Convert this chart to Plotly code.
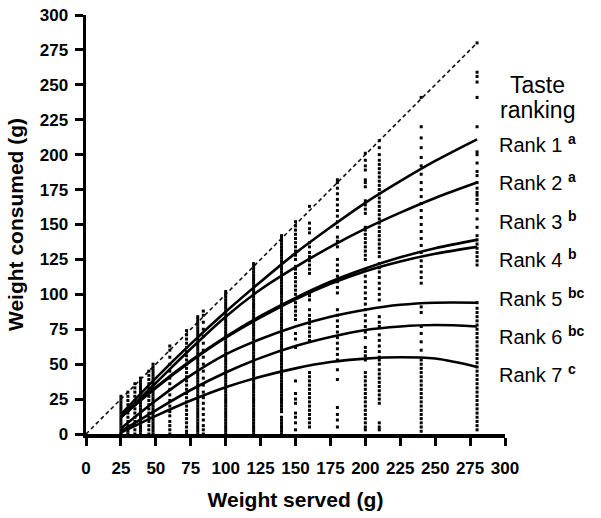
import plotly.graph_objects as go

# ---------------- data ----------------
fit_x = [25, 50, 75, 100, 125, 150, 175, 200, 225, 250, 280]
rank1 = [14, 40, 64.5, 87.5, 109, 129.5, 148, 165.5, 181, 195.5, 211]
rank2 = [12, 36.5, 61, 84, 103.5, 119.5, 134, 147, 158.5, 169, 180]
rank3 = [12, 33.5, 52.5, 69.5, 84.5, 97.5, 109, 118.5, 126.5, 133, 139]
rank4 = [12, 33, 52, 69, 83.5, 96.5, 107.5, 116.5, 123.5, 129, 134]
rank5 = [4, 24, 42, 57, 68, 77, 84, 89, 92.5, 94, 94]
rank6 = [2, 17, 31.5, 44, 54.5, 63, 69.5, 74.5, 77, 78, 77]
rank7 = [1, 13, 24, 33.5, 41, 47, 51.5, 54, 55, 54, 48]
rank_names = ["Rank 1", "Rank 2", "Rank 3", "Rank 4", "Rank 5", "Rank 6", "Rank 7"]
rank_letters = ["a", "a", "b", "b", "bc", "bc", "c"]

identity_x = [0, 280]
identity_y = [0, 280]

served_weights = [25, 30, 35, 39, 45, 48, 60, 72, 80, 84, 100, 120, 140,
                  150, 160, 180, 200, 210, 240, 280]
col_25 = [0, 1, 3, 5, 7, 9, 11, 13, 15, 17, 19, 21, 23, 25, 27]
col_30 = [0, 2, 4, 6, 9, 12, 15, 18, 21, 24, 27, 30]
col_35 = [0, 3, 6, 9, 12, 15, 18, 21, 24, 27, 30, 33, 36]
col_39 = [0, 2, 4, 6, 8, 10, 12, 14, 16, 18, 20, 22, 24, 26, 28, 30, 32, 34, 36, 38, 40]
col_45 = [0, 3, 6, 9, 12, 15, 18, 21, 24, 27, 30, 33, 36, 39, 42, 45]
col_48 = [0, 2, 4, 6, 8, 10, 12, 14, 16, 18, 20, 22, 24, 26, 28, 30, 32, 34, 36,
          38, 40, 42, 44, 46, 48, 50]
col_60 = [0, 3, 6, 9, 13, 16, 20, 24, 28, 32, 36, 40, 45, 50, 55, 60, 63]
col_72 = [0, 2, 5, 8, 11, 14, 17, 20, 23, 26, 29, 32, 35, 38, 41, 44, 47, 50, 53,
          56, 59, 62, 65, 68, 71, 74]
col_80 = [0, 2, 4, 6, 8, 10, 12, 14, 16, 18, 20, 22, 24, 26, 28, 30, 32, 34, 36,
          38, 40, 42, 44, 46, 48, 50, 52, 54, 56, 58, 60, 62, 64, 66, 68, 70, 72,
          74, 76, 78, 80, 82, 84]
col_84 = [0, 3, 6, 10, 14, 18, 22, 26, 30, 35, 40, 45, 50, 55, 60, 65, 70, 75, 80,
          85, 88]
col_100 = [0, 2, 4, 6, 8, 10, 12, 14, 16, 18, 20, 22, 24, 26, 28, 30, 32, 34, 36,
           38, 40, 42, 44, 46, 48, 50, 52, 54, 56, 58, 60, 62, 64, 66, 68, 70, 72,
           74, 76, 78, 80, 82, 84, 86, 88, 90, 92, 94, 96, 98, 100, 102]
col_120 = [0, 2, 4, 6, 8, 10, 12, 14, 16, 18, 20, 22, 24, 26, 28, 30, 32, 34, 36,
           38, 40, 42, 44, 46, 48, 50, 52, 54, 56, 58, 60, 62, 64, 66, 68, 70, 72,
           74, 76, 78, 80, 82, 84, 86, 88, 90, 92, 94, 96, 98, 100, 102, 104, 106,
           108, 110, 112, 114, 116, 118, 120, 122]
col_140 = [0, 2, 4, 6, 8, 10, 12, 16, 18, 20, 22, 24, 26, 28, 30, 32, 34, 36,
           38, 40, 42, 44, 46, 48, 50, 52, 54, 56, 58, 60, 62, 64, 66, 68, 70, 72,
           74, 76, 78, 80, 82, 84, 86, 88, 90, 92, 94, 96, 98, 100, 102, 104, 106,
           108, 110, 112, 114, 116, 118, 120, 122, 124, 126, 128, 130, 132, 134,
           136, 138, 140, 142]
col_150 = [3, 8, 12, 15, 22, 25, 29, 38, 62, 68, 72, 82, 85, 88, 91, 94, 97, 100,
           103, 106, 109, 112, 115, 118, 120, 125, 128, 131, 134, 137, 140, 143,
           146, 149, 152]
col_160 = [5, 8, 11, 14, 17, 20, 23, 26, 29, 32, 35, 38, 41, 44, 67, 70, 73, 76,
           79, 82, 85, 89, 96, 99, 101, 115, 118, 121, 124, 127, 130, 134, 137,
           144, 147, 151, 163]
col_180 = [5, 10, 14, 19, 39, 46, 53, 57, 61, 65, 69, 73, 77, 81, 85, 89, 101,
           105, 109, 113, 117, 121, 125, 134, 138, 141, 148, 152, 156, 160, 164,
           168, 172, 176, 180, 182]
col_200 = [3, 5, 8, 11, 14, 17, 20, 23, 26, 29, 32, 35, 38, 41, 44, 53, 56, 59,
           62, 69, 73, 77, 81, 85, 89, 93, 97, 101, 105, 109, 113, 117, 125, 128,
           131, 134, 137, 140, 143, 146, 148, 158, 161, 164, 167, 177, 180, 182,
           189, 192, 196, 201]
col_210 = [3, 5, 8, 22, 25, 28, 31, 34, 37, 40, 43, 46, 50, 53, 55, 59, 63, 67,
           71, 77, 80, 84, 96, 100, 104, 108, 112, 116, 119, 122, 127, 130, 133,
           136, 139, 142, 145, 148, 151, 154, 157, 160, 163, 166, 169, 172, 175,
           178, 181, 184, 187, 190, 193, 196, 200, 205, 210]
col_240 = [2, 5, 8, 11, 14, 17, 20, 23, 26, 29, 32, 35, 38, 41, 44, 47, 50, 53,
           60, 66, 72, 77, 87, 91, 108, 112, 116, 120, 124, 130, 135, 140, 145,
           150, 155, 160, 165, 170, 175, 180, 186, 192, 198, 205, 212, 220, 241]
col_280 = [3, 6, 9, 12, 15, 18, 21, 24, 27, 30, 33, 36, 39, 42, 45, 48, 51, 54,
           57, 60, 63, 66, 69, 72, 75, 78, 81, 84, 87, 90, 94, 121, 124, 127, 130,
           133, 136, 139, 142, 148, 154, 160, 165, 168, 171, 173, 176, 180, 185,
           188, 194, 200, 202, 220, 241, 252, 256, 259, 280]

dot_columns = [col_25, col_30, col_35, col_39, col_45, col_48, col_60, col_72,
               col_80, col_84, col_100, col_120, col_140, col_150, col_160,
               col_180, col_200, col_210, col_240, col_280]

# ---------------- figure ----------------
fig = go.Figure()

dot_x = []
dot_y = []
for w, col in zip(served_weights, dot_columns):
    dot_x.extend([w] * len(col))
    dot_y.extend(col)

fig.add_trace(go.Scatter(
    x=dot_x, y=dot_y, mode="markers",
    marker=dict(symbol="square", size=3, color="black", line=dict(width=0)),
    cliponaxis=False, showlegend=False, hoverinfo="skip"))

fig.add_trace(go.Scatter(
    x=identity_x, y=identity_y, mode="lines",
    line=dict(color="black", width=1.5, dash="4px,3px"),
    showlegend=False, hoverinfo="skip"))

for ys in [rank1, rank2, rank3, rank4, rank5, rank6, rank7]:
    fig.add_trace(go.Scatter(
        x=fit_x, y=ys, mode="lines",
        line=dict(color="black", width=2.6, shape="spline", smoothing=1.0),
        showlegend=False, hoverinfo="skip"))

tick_vals = [0, 25, 50, 75, 100, 125, 150, 175, 200, 225, 250, 275, 300]
tick_font = dict(family="Liberation Sans, Arial", size=17, color="black",
                 weight="bold")
title_font = dict(family="Liberation Sans, Arial", size=21, color="black",
                  weight="bold")

axis_common = dict(
    range=[0, 300], tickvals=tick_vals, ticks="outside", ticklen=8,
    tickwidth=3, tickcolor="black", showline=True, linewidth=3.5,
    linecolor="black", showgrid=False, zeroline=False, tickfont=tick_font,
    fixedrange=True, automargin=False, tickangle=0,
)

fig.update_xaxes(**axis_common, ticklabelstandoff=8,
                 title=dict(text="Weight served (g)", font=title_font, standoff=16))
fig.update_yaxes(**axis_common, ticklabelstandoff=3,
                 title=dict(text="Weight consumed (g)", font=title_font, standoff=11))

head_font = dict(family="Liberation Sans, Arial", size=23, color="black")
fig.add_annotation(x=323 / 300, y=250 / 300, xref="paper", yref="paper",
                   xanchor="center", yanchor="middle",
                   text="Taste", showarrow=False, font=head_font)
fig.add_annotation(x=323 / 300, y=232 / 300, xref="paper", yref="paper",
                   xanchor="center", yanchor="middle",
                   text="ranking", showarrow=False, font=head_font)

label_font = dict(family="Liberation Sans, Arial", size=20, color="black")
label_y = [208, 180.5, 153, 125.5, 98, 70.5, 43]
for name, letter, ly in zip(rank_names, rank_letters, label_y):
    fig.add_annotation(x=294 / 300, y=ly / 300, xref="paper", yref="paper",
                       xanchor="left", yanchor="middle",
                       text=f"{name} <sup><b>{letter}</b></sup>",
                       showarrow=False, font=label_font)

fig.update_layout(
    width=601, height=518,
    margin=dict(l=86, r=96, t=15, b=84),
    plot_bgcolor="white", paper_bgcolor="white",
)

# remove the default 8px page margin so the figure fills the window exactly
fig.write_html("out.html",
               config={"displayModeBar": False, "staticPlot": True},
               post_script="document.body.style.margin='0px';")
